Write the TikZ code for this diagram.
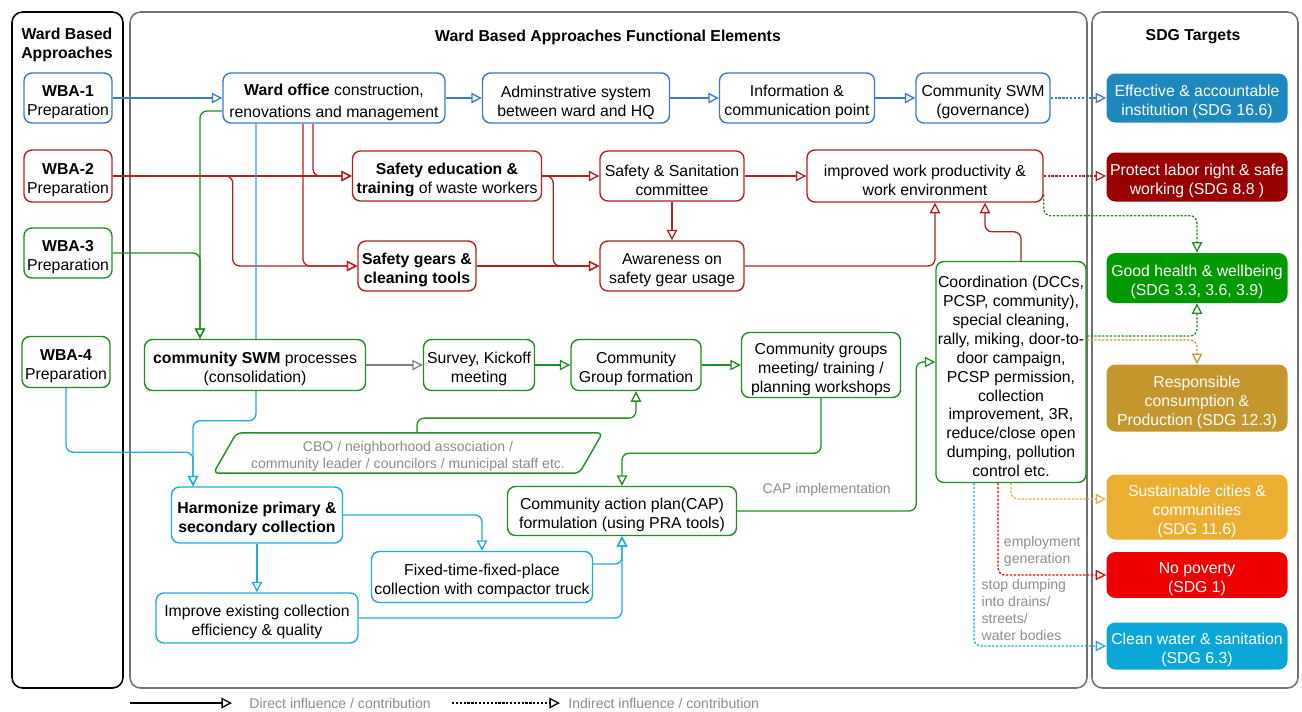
\documentclass[tikz,border=0pt]{standalone}
\usepackage{fontspec}
\setmainfont{Liberation Sans}
\usetikzlibrary{arrows.meta,positioning,shapes.geometric,calc,backgrounds}

\definecolor{wbablue}{RGB}{60,122,196}
\definecolor{wbared}{RGB}{176,34,34}
\definecolor{wbagreen}{RGB}{34,139,34}
\definecolor{wbacyan}{RGB}{30,170,224}
\definecolor{wbagray}{RGB}{140,140,140}
\definecolor{sdgblue}{RGB}{28,136,190}
\definecolor{sdgmaroon}{RGB}{153,0,0}
\definecolor{sdggreen}{RGB}{0,153,0}
\definecolor{sdggold}{RGB}{196,151,46}
\definecolor{sdgyellow}{RGB}{234,174,49}
\definecolor{sdgred}{RGB}{238,0,0}
\definecolor{sdgcyan}{RGB}{10,166,216}

% strut on the first line, drops box text a little
\newcommand{\wbastrut}{\rule{0pt}{11.5pt}}
\newcommand{\cbostrut}{\rule{0pt}{9.5pt}}

\begin{document}
\begin{tikzpicture}[x=0.02cm, y=-0.02cm,
  sz/.style 2 args={minimum width=#1*0.02cm, minimum height=#2*0.02cm},
  elem/.style={rectangle, draw, fill=white, rounded corners=4.5pt, line width=0.8pt, align=center, inner sep=1pt, font=\fontsize{9}{10.8}\selectfont},
  blueelem/.style={elem, draw=wbablue},
  redelem/.style={elem, draw=wbared},
  greenelem/.style={elem, draw=wbagreen},
  cyanelem/.style={elem, draw=wbacyan},
  cboshape/.style={trapezium, trapezium left angle=62, trapezium right angle=118, trapezium stretches=true, draw=wbagreen, fill=white, line width=0.8pt, rounded corners=3pt, align=center, inner sep=1pt, text=wbagray, font=\fontsize{8}{9.8}\selectfont},
  sdg/.style={rectangle, rounded corners=5pt, align=center, inner sep=1pt, text=white, font=\fontsize{9}{10.8}\selectfont},
  panel/.style={rounded corners=6pt, line width=0.9pt},
  paneltitle/.style={align=center, font=\fontsize{9}{10.8}\selectfont\bfseries},
  lbl/.style={text=wbagray, font=\fontsize{8}{9.6}\selectfont, inner sep=1pt},
  link/.style={-{Triangle[open, length=6pt, width=6pt]}, line width=0.75pt, rounded corners=4pt},
  dotlink/.style={link, dash pattern=on 1.3pt off 0.9pt}
]
\useasboundingbox (0,0) rectangle (1302,711);

% panel titles
\node[paneltitle] (ttlwba) at (67,45) {Ward Based\\Approaches};
\node[paneltitle] (ttlfunc) at (608,37) {Ward Based Approaches Functional Elements};
\node[paneltitle] (ttlsdg) at (1193,37) {SDG Targets};

% ward based approaches
\node[blueelem, sz={88}{50}] (wba1) at (68,98) {\wbastrut\textbf{WBA-1}\\Preparation};
\node[redelem, sz={88}{52}] (wba2) at (68,176) {\wbastrut\textbf{WBA-2}\\Preparation};
\node[greenelem, sz={88}{50}] (wba3) at (68,253) {\wbastrut\textbf{WBA-3}\\Preparation};
\node[greenelem, sz={88}{51}] (wba4) at (66,362) {\wbastrut\textbf{WBA-4}\\Preparation};

% WBA-1 elements
\node[blueelem, sz={222}{50}] (office) at (334,98) {\wbastrut\textbf{Ward office} construction,\\[2pt]renovations and management};
\node[blueelem, sz={187}{50}] (admin) at (576,98) {\wbastrut Adminstrative system\\between ward and HQ};
\node[blueelem, sz={155}{50}] (info) at (797,98) {\wbastrut Information \&\\communication point};
\node[blueelem, sz={134}{50}] (govern) at (983,98) {\wbastrut Community SWM\\(governance)};

% WBA-2 elements
\node[redelem, sz={189}{50}] (safedu) at (447,176) {\wbastrut\textbf{Safety education \&}\\\textbf{training} of waste workers};
\node[redelem, sz={144}{50}] (committee) at (672,176) {\wbastrut Safety \& Sanitation\\committee};
\node[redelem, sz={236}{52}] (productivity) at (925,176) {\wbastrut improved work productivity \&\\work environment};
\node[redelem, sz={118}{50}] (gears) at (417,266) {\wbastrut\textbf{Safety gears \&}\\\textbf{cleaning tools}};
\node[redelem, sz={144}{50}] (awareness) at (672,266) {\wbastrut Awareness on\\safety gear usage};

% WBA-3 elements
\node[greenelem, sz={221}{51}] (cswm) at (255,365) {\wbastrut\textbf{community SWM} processes\\(consolidation)};
\node[greenelem, sz={111}{51}] (survey) at (479,365) {\wbastrut Survey, Kickoff\\meeting};
\node[greenelem, sz={130}{51}] (groupform) at (636,365) {\wbastrut Community\\Group formation};
\node[greenelem, sz={159}{63}] (meeting) at (821,365) {\wbastrut Community groups\\meeting/ training /\\planning workshops};
\node[cboshape, sz={390}{40}] (cbo) at (408,453) {\cbostrut CBO / neighborhood association /\\community leader / councilors / municipal staff etc.};
\node[greenelem, sz={229}{49}] (cap) at (622,511) {\wbastrut Community action plan(CAP)\\formulation (using PRA tools)};
\node[greenelem, sz={150}{221}, inner xsep=0pt] (coord) at (1011,372) {\wbastrut Coordination (DCCs,\\PCSP, community),\\special cleaning,\\rally, miking, door-to-\\door campaign,\\PCSP permission,\\collection\\improvement, 3R,\\reduce/close open\\dumping, pollution\\control etc.};

% WBA-4 elements
\node[cyanelem, sz={171}{56}] (harmonize) at (257,515) {\wbastrut\textbf{Harmonize primary \&}\\\textbf{secondary collection}};
\node[cyanelem, sz={221}{51}] (fixedtime) at (482,577) {\wbastrut Fixed-time-fixed-place\\collection with compactor truck};
\node[cyanelem, sz={202}{50}] (improve) at (257,618) {\wbastrut Improve existing collection\\efficiency \& quality};

% SDG targets
\node[sdg, fill=sdgblue, sz={181}{49}] (sdg16) at (1197,98) {\wbastrut Effective \& accountable\\institution (SDG 16.6)};
\node[sdg, fill=sdgmaroon, sz={181}{49}] (sdg8) at (1197,177) {\wbastrut Protect labor right \& safe\\working (SDG 8.8 )};
\node[sdg, fill=sdggreen, sz={181}{50}] (sdg3) at (1197,278) {\wbastrut Good health \& wellbeing\\(SDG 3.3, 3.6, 3.9)};
\node[sdg, fill=sdggold, sz={181}{67}] (sdg12) at (1197,398) {\wbastrut Responsible\\consumption \&\\Production (SDG 12.3)};
\node[sdg, fill=sdgyellow, sz={181}{65}] (sdg11) at (1197,507) {\wbastrut Sustainable cities \&\\communities\\(SDG 11.6)};
\node[sdg, fill=sdgred, sz={181}{41}] (sdg1) at (1197,575) {\wbastrut No poverty\\(SDG 1)};
\node[sdg, fill=sdgcyan, sz={181}{47}] (sdg6) at (1197,646) {\wbastrut Clean water \& sanitation\\(SDG 6.3)};

% legend
\coordinate (lgdira) at (130,703);
\coordinate (lgdirb) at (232,703);
\coordinate (lginda) at (452,703);
\coordinate (lgindb) at (560,703);
\draw[link, black] (lgdira) -- (lgdirb) node[lbl, right=0.3cm] (lgdir) {Direct influence / contribution};
\draw[dotlink, black] (lginda) -- (lgindb) node[lbl, right=0.12cm] (lgind) {Indirect influence / contribution};

\begin{pgfonlayer}{background}
% panels
\draw[panel, draw=black] (12,12) rectangle (123,688);
\draw[panel, draw=black!55] (130,12) rectangle (1087,688);
\draw[panel, draw=black!55] (1092,12) rectangle (1298,688);

% WBA-1
\draw[link, wbablue] (wba1) -- (office);
\draw[link, wbablue] (office) -- (admin);
\draw[link, wbablue] (admin) -- (info);
\draw[link, wbablue] (info) -- (govern);
\draw[dotlink, wbablue] (govern.east) -- (govern.east -| sdg16.west);

% WBA-2
\draw[link, wbared] (wba2) -- (safedu);
\draw[link, wbared] (wba2.east) -- ++(120,0) |- (gears.west);
\draw[link, wbared] ($(office.south)+(-21,0)$) |- (safedu.west);
\draw[link, wbared] ($(office.south)+(-31,0)$) |- (gears.west);
\draw[link, wbared] (safedu) -- (committee);
\draw[link, wbared] (safedu.east) -- ++(11,0) |- (awareness.west);
\draw[link, wbared] (gears) -- (awareness);
\draw[link, wbared] (committee) -- (awareness);
\draw[link, wbared] (committee) -- (productivity);
\draw[link, wbared] (awareness.east) -| ($(productivity.south)+(10,0)$);
\draw[link, wbared] ($(coord.north)+(10,0)$) -- ++(0,-29) -| ($(productivity.south)+(60,0)$);
\draw[dotlink, wbared] (productivity.east) -- (productivity.east -| sdg8.west);
\draw[dotlink, wbagreen] ($(productivity.south east)+(0,-8)$) -- ++(0,21) -| (sdg3.north);

% WBA-3
\draw[link, wbagreen] ($(office.west)+(0,13)$) -| ($(cswm.north)+(-55,0)$);
\draw[link, wbagreen] (wba3.east) -| ($(cswm.north)+(-55,0)$);
\draw[link, gray] (cswm) -- (survey);
\draw[link, wbagreen] (survey) -- (groupform);
\draw[link, wbagreen] (groupform) -- (meeting);
\draw[link, wbagreen] ($(cbo.north)+(9,0)$) -- ++(0,-14) -| (groupform.south);
\draw[link, wbagreen] (meeting.south) -- ++(0,55) -| (cap.north);
\draw[link, wbagreen] (cap.east) -- node[lbl, above=7pt] (capimpl) {CAP implementation} ++(179,0) |- ($(coord.west)+(0,-10)$);

% WBA-4
\draw[link, wbacyan] ($(office.south)+(-78,0)$) -- ++(0,297) -| ($(harmonize.north)+(-64,0)$);
\draw[link, wbacyan] (wba4.south) -- ++(0,64) -| ($(harmonize.north)+(-64,0)$);
\draw[link, wbacyan] (harmonize.east) -| (fixedtime.north);
\draw[link, wbacyan] (harmonize) -- (improve);
\draw[link, wbacyan] ($(fixedtime.east)+(0,-13)$) -| (cap.south);
\draw[link, wbacyan] (improve.east) -| (cap.south);

% coordination to SDGs
\draw[dotlink, wbagreen] ($(coord.east)+(0,-36)$) -| (sdg3.south);
\draw[dotlink, sdggold] ($(coord.east)+(0,-32)$) -| (sdg12.north);
\draw[dotlink, sdgyellow] (coord.south) |- ($(sdg11.west)+(0,-8)$);
\draw[dotlink, sdgred] ($(coord.south)+(-13,0)$) |- node[lbl, pos=0.37, right=2pt, align=left] (employ) {employment\\generation} (sdg1.west);
\draw[dotlink, wbacyan] ($(coord.south)+(-37,0)$) |- node[lbl, pos=0.39, right=3pt, align=left] (stopdump) {stop dumping\\into drains/\\streets/\\water bodies} (sdg6.west);
\end{pgfonlayer}
\end{tikzpicture}
\end{document}
